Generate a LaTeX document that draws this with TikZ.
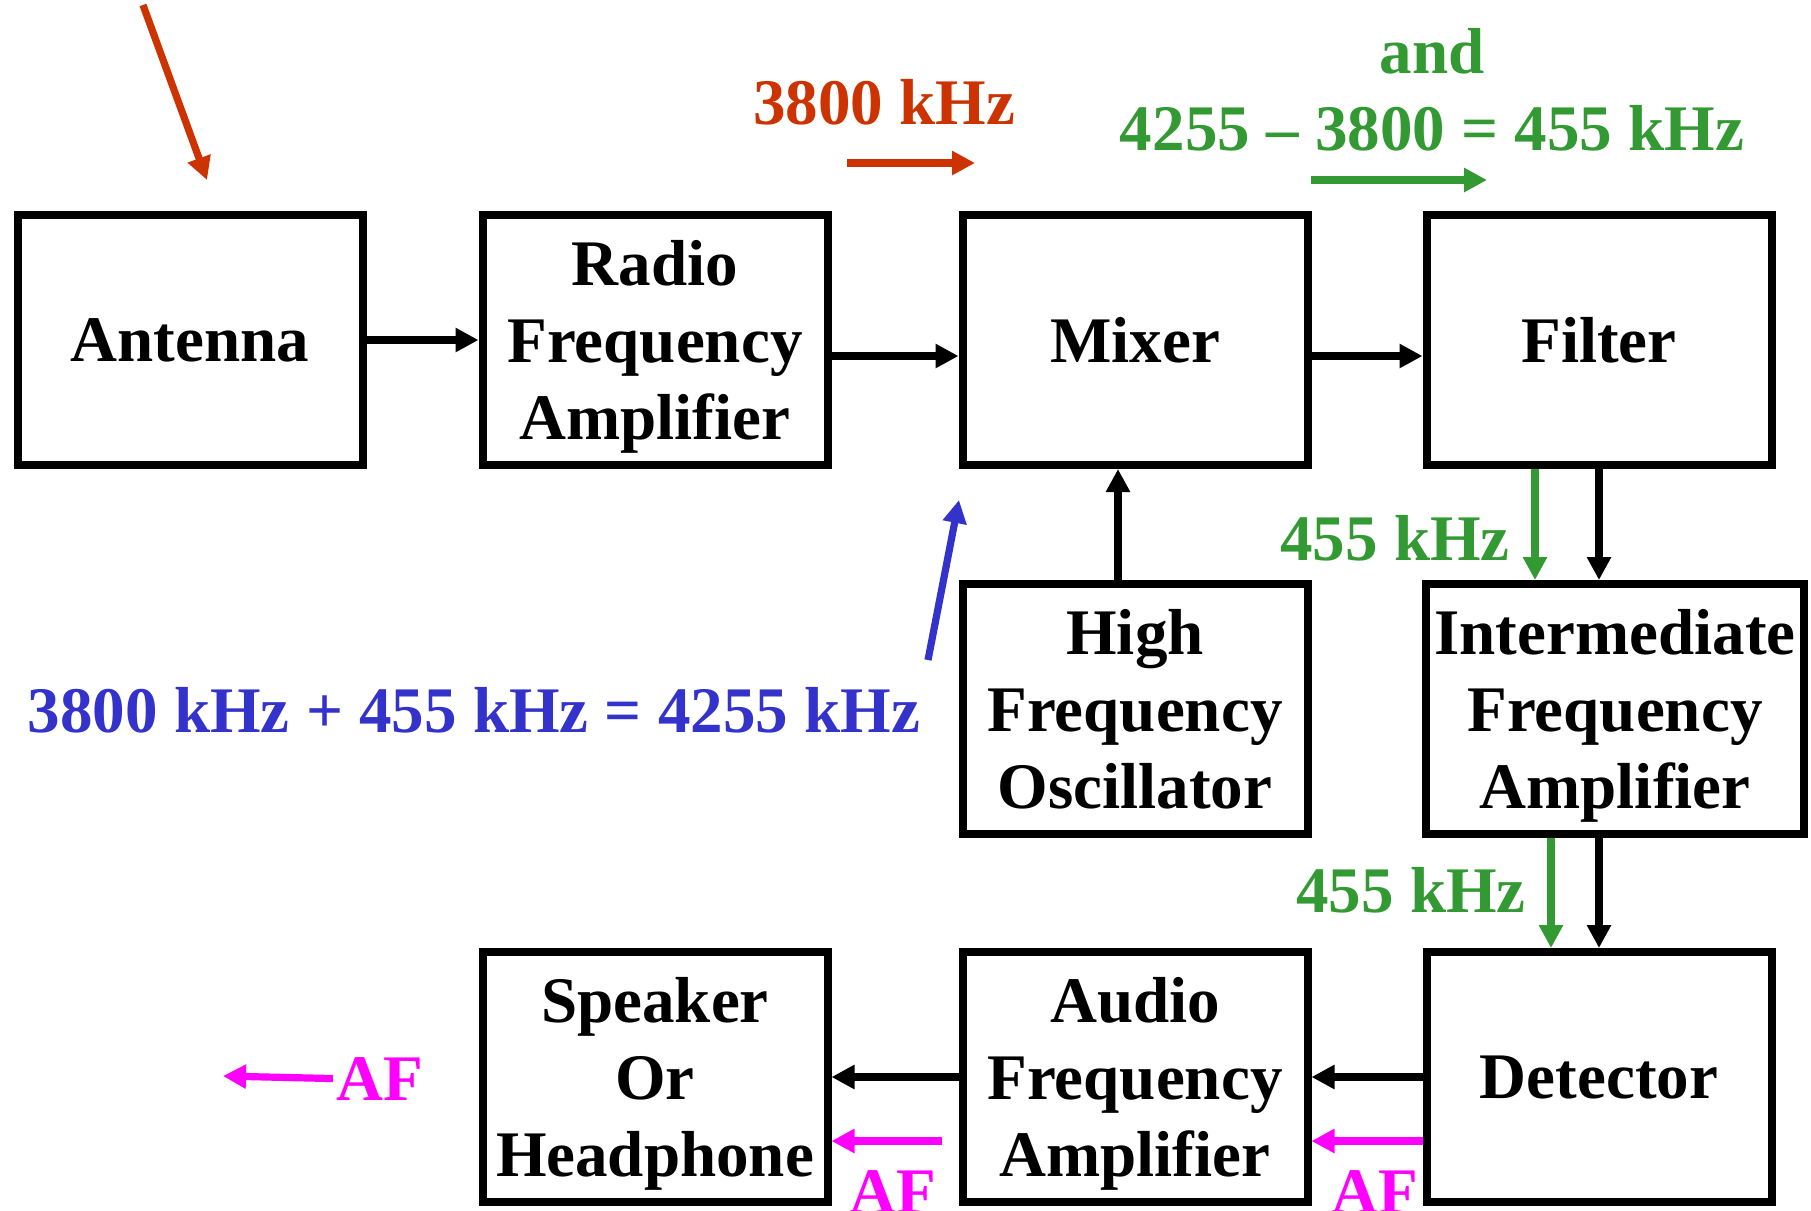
\documentclass[tikz,border=0pt]{standalone}
\usepackage{fontspec}
\setmainfont{Liberation Serif}
\usetikzlibrary{arrows.meta}
\definecolor{sigred}{RGB}{204,51,0}
\definecolor{siggreen}{RGB}{51,153,51}
\definecolor{sigblue}{RGB}{51,51,204}
\definecolor{sigmag}{RGB}{255,0,255}
\begin{document}
\begin{tikzpicture}[x=0.1mm,y=-0.1mm,
  block/.style={draw,line width=0.8mm,minimum width=34.5mm,minimum height=25mm,
    align=center,inner sep=0pt,text depth=0pt,font=\fontsize{18.5}{22}\selectfont\bfseries},
  lab/.style={font=\fontsize{18.5}{22}\selectfont\bfseries,inner sep=0pt,anchor=base},
  conn/.style={line width=0.72mm,-{Triangle[length=2.3mm,width=2.3mm]}},
  sig/.style={conn}]
\useasboundingbox (0,0) rectangle (1811,1210);
\node[block] (ant) at (190,340) {Antenna};
\node[block] (rfa) at (655,340) {Radio\\Frequency\\Amplifier};
\node[block] (mix) at (1135,340) {Mixer};
\node[block] (flt) at (1599,340) {Filter};
\node[block] (osc) at (1135,709) {High\\Frequency\\Oscillator};
\node[block,minimum width=37.8mm] (ifa) at (1615,709) {Intermediate\\Frequency\\Amplifier};
\node[block] (spk) at (655,1077) {Speaker\\Or\\Headphone};
\node[block] (afa) at (1135,1077) {Audio\\Frequency\\Amplifier};
\node[block] (det) at (1599,1077) {Detector};
% signal labels
\node[lab,sigred] (rflab) at (884,124) {3800 kHz};
\node[lab,siggreen] (andlab) at (1432,73) {and};
\node[lab,siggreen] (iflab) at (1432,150) {4255 – 3800 = 455 kHz};
\node[lab,sigblue] (oslab) at (474,732) {3800 kHz + 455 kHz = 4255 kHz};
\node[lab,siggreen] (if1) at (1395,560) {455 kHz};
\node[lab,siggreen] (if2) at (1411,912) {455 kHz};
\node[lab,sigmag] (afl) at (380,1100) {AF};
\node[lab,sigmag] (af1) at (893,1213) {AF};
\node[lab,sigmag] (af2) at (1375,1213) {AF};
\coordinate (rfin) at (143,5);
\coordinate (antin) at (207,180);
\coordinate (r1) at (847,163);
\coordinate (r2) at (975,163);
\coordinate (g1) at (1311,180);
\coordinate (g2) at (1487,180);
\coordinate (b1) at (928,660);
\coordinate (b2) at (959,500);
\coordinate (afout) at (223,1076);
% main chain
\draw[conn] (ant) -- (rfa);
\draw[conn] ([yshift=-1.6mm]rfa.east) -- ([yshift=-1.6mm]mix.west);
\draw[conn] ([yshift=-1.6mm]mix.east) -- ([yshift=-1.6mm]flt.west);
\draw[conn] ([xshift=-1.7mm]osc.north) -- ([xshift=-1.7mm]mix.south);
\draw[conn] (flt.south) -- (flt.south |- ifa.north);
\draw[conn] (det.north |- ifa.south) -- (det.north);
\draw[conn] (det) -- (afa);
\draw[conn] (afa) -- (spk);
% coloured signals
\draw[sig,sigred] (rfin) -- (antin);
\draw[sig,sigred] (r1) -- (r2);
\draw[sig,siggreen] (g1) -- (g2);
\draw[sig,sigblue] (b1) -- (b2);
\draw[sig,siggreen] ([xshift=-6.4mm]flt.south) -- ([xshift=-6.4mm]flt.south |- ifa.north);
\draw[sig,siggreen] ([xshift=-4.8mm]det.north |- ifa.south) -- ([xshift=-4.8mm]det.north);
\draw[sig,sigmag] ([yshift=-6.4mm]det.west) -- ([yshift=-6.4mm]afa.east);
\draw[sig,sigmag] ([shift={(11mm,-6.4mm)}]spk.east) -- ([yshift=-6.4mm]spk.east);
\draw[sig,sigmag] ([xshift=-0.3mm]afl.west) -- (afout);
\end{tikzpicture}
\end{document}
